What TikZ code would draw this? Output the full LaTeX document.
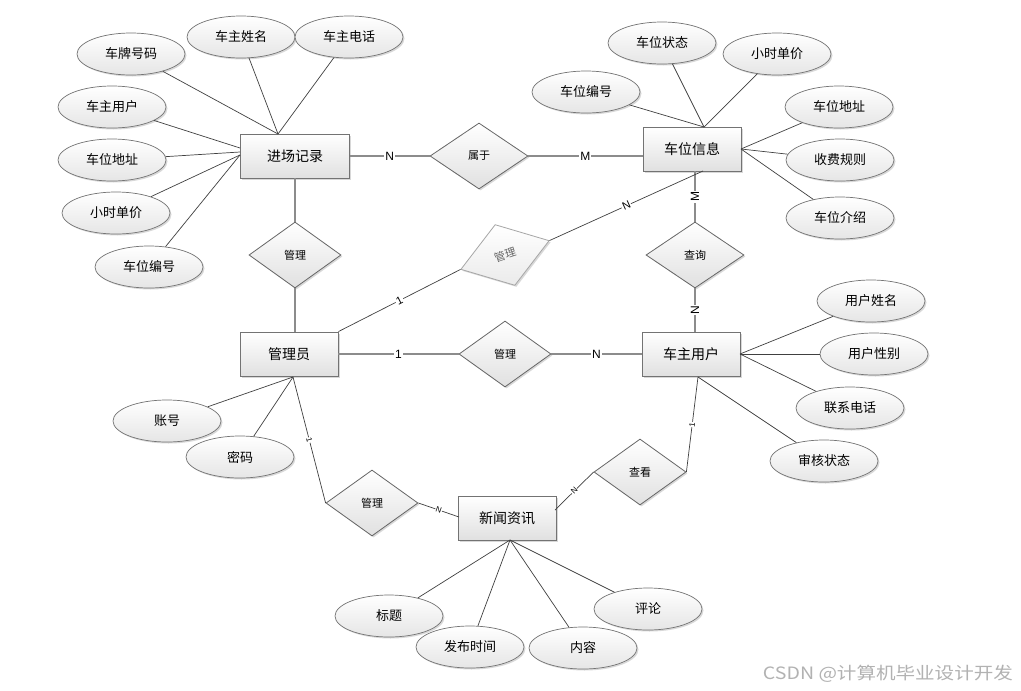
\documentclass[tikz,border=0pt]{standalone}
\usepackage{fontspec}
\setmainfont{Liberation Sans}
\newfontfamily\cjk{Noto Sans CJK SC}
\usetikzlibrary{shapes.geometric,shadows}
\tikzset{
  shad/.style={drop shadow={shadow xshift=1.5pt,shadow yshift=-1.5pt,fill=black!25,opacity=0.6}},
  ent/.style={rectangle, draw=black!55, line width=0.9pt, top color=white, bottom color=black!12,
    minimum width=98pt, minimum height=44pt, inner sep=0pt, font=\cjk\fontsize{14}{14}\selectfont, shad},
  attr/.style={ellipse, draw=black!55, line width=0.7pt, top color=white, bottom color=black!10,
    minimum width=108pt, minimum height=42pt, inner sep=0pt, font=\cjk\fontsize{13}{13}\selectfont, shad},
  rel/.style={diamond, draw=black!60, line width=0.8pt, top color=white, bottom color=black!12,
    minimum width=92pt, minimum height=66pt, inner sep=0pt, font=\cjk\fontsize{11}{11}\selectfont, shad},
  relline/.style={draw=black!45, line width=1.3pt},
  aline/.style={draw=black!75, line width=0.7pt},
  lbl/.style={fill=white, inner sep=1pt, font=\fontsize{12}{12}\selectfont},
  tick/.style={fill=white, inner sep=0.5pt, font=\fontsize{8}{8}\selectfont, sloped},
}
\begin{document}
\begin{tikzpicture}[x=1pt,y=-1pt]
\useasboundingbox[fill=white] (0,0) rectangle (1021,691);

% entities
\node[ent, minimum width=109pt] (jc) at (295,156) {进场记录};
\node[ent] (cw) at (692,149) {车位信息};
\node[ent] (gly) at (289,354) {管理员};
\node[ent] (czu) at (691,354) {车主用户};
\node[ent] (xw) at (507,518) {新闻资讯};

% relationships
\node[rel, minimum width=98pt] (sy) at (479,156) {属于};
\node[rel] (gl1) at (295,255) {管理};
\node[rel] (gl3) at (505,354) {管理};
\node[rel, minimum width=98pt] (cx) at (695,255) {查询};
\node[rel] (gl4) at (372,503) {管理};
\node[rel] (ck) at (640,472) {查看};
\node[rel, rotate=18, minimum width=93pt, minimum height=64pt, draw=black!35, bottom color=black!8, text=black!60] (gl2) at (505,255) {管理};

% attributes
\node[attr] (a1) at (131,54) {车牌号码};
\node[attr] (a2) at (241,37) {车主姓名};
\node[attr] (a3) at (349,37) {车主电话};
\node[attr] (a4) at (112,107) {车主用户};
\node[attr] (a5) at (112,160) {车位地址};
\node[attr] (a6) at (116,213) {小时单价};
\node[attr] (a7) at (149,267) {车位编号};

\node[attr] (b1) at (662,43) {车位状态};
\node[attr] (b2) at (777,54) {小时单价};
\node[attr] (b3) at (586,92) {车位编号};
\node[attr] (b4) at (839,107) {车位地址};
\node[attr] (b5) at (840,160) {收费规则};
\node[attr] (b6) at (840,218) {车位介绍};

\node[attr] (c1) at (871,301) {用户姓名};
\node[attr] (c2) at (874,354) {用户性别};
\node[attr] (c3) at (850,408) {联系电话};
\node[attr] (c4) at (824,461) {审核状态};

\node[attr] (d1) at (167,421) {账号};
\node[attr] (d2) at (240,457) {密码};

\node[attr] (e1) at (389,616) {标题};
\node[attr] (e2) at (470,647) {发布时间};
\node[attr] (e3) at (583,648) {内容};
\node[attr] (e4) at (648,609) {评论};

% convergence points
\coordinate (jcT) at (278,134);
\coordinate (jcL1) at (240,148);
\coordinate (jcL2) at (240,152);
\coordinate (jcL3) at (240,155);
\coordinate (cwT) at (704,127);
\coordinate (cwR) at (741,149);
\coordinate (cwB) at (703,171);
\coordinate (czR) at (740,354);
\coordinate (czB) at (698,377);
\coordinate (glyB) at (293,377);
\coordinate (xwB) at (510,540);
\coordinate (xwL) at (459,517);
\coordinate (xwR) at (555,510);

% attribute lines
\draw[aline] (a1) -- (jcT);
\draw[aline] (a2) -- (jcT);
\draw[aline] (a3) -- (jcT);
\draw[aline] (a4) -- (jcL1);
\draw[aline] (a5) -- (jcL2);
\draw[aline] (a6) -- (jcL3);
\draw[aline] (a7) -- (jcL3);

\draw[aline] (b1) -- (cwT);
\draw[aline] (b2) -- (cwT);
\draw[aline] (b3) -- (cwT);
\draw[aline] (b4) -- (cwR);
\draw[aline] (b5) -- (cwR);
\draw[aline] (b6) -- (cwR);

\draw[aline] (c1) -- (czR);
\draw[aline] (c2) -- (czR);
\draw[aline] (c3) -- (czR);
\draw[aline] (c4) -- (czB);

\draw[aline] (d1) -- (glyB);
\draw[aline] (d2) -- (glyB);

\draw[aline] (e1) -- (xwB);
\draw[aline] (e2) -- (xwB);
\draw[aline] (e3) -- (xwB);
\draw[aline] (e4) -- (xwB);

% relationship lines
\draw[relline] (jc.east) -- node[lbl] {N} (sy.west);
\draw[relline] (sy.east) -- node[lbl] {M} (sy.east -| cw.west);
\draw[relline] (jc.south) -- (gl1.north);
\draw[relline] (gl1.south) -- (gl1.south |- gly.north);
\draw[relline] (cw.south -| cx.north) -- node[lbl, rotate=90] {M} (cx.north);
\draw[relline] (cx.south) -- node[lbl, rotate=90] {N} (cx.south |- czu.north);
\draw[relline] (gly.east) -- node[lbl] {1} (gl3.west);
\draw[relline] (gl3.east) -- node[lbl] {N} (gl3.east -| czu.west);

\draw[aline] (gly.north east) -- node[lbl, sloped, font=\fontsize{11}{11}\selectfont] {1} (gl2.west);
\draw[aline] (gl2.east) -- node[lbl, sloped, font=\fontsize{11}{11}\selectfont] {N} (cwB);

\draw[aline] (glyB) -- node[tick] {1} (gl4.west);
\draw[aline] (gl4.east) -- node[tick] {N} (xwL);
\draw[aline] (xwR) -- node[tick] {N} (ck.west);
\draw[aline] (ck.east) -- node[tick] {1} (czB);

% watermark
\node[font=\cjk\fontsize{17}{17}\selectfont, text=black!30, anchor=east, xscale=1.15] (wm) at (1017,674) {CSDN @计算机毕业设计开发};
\end{tikzpicture}
\end{document}
